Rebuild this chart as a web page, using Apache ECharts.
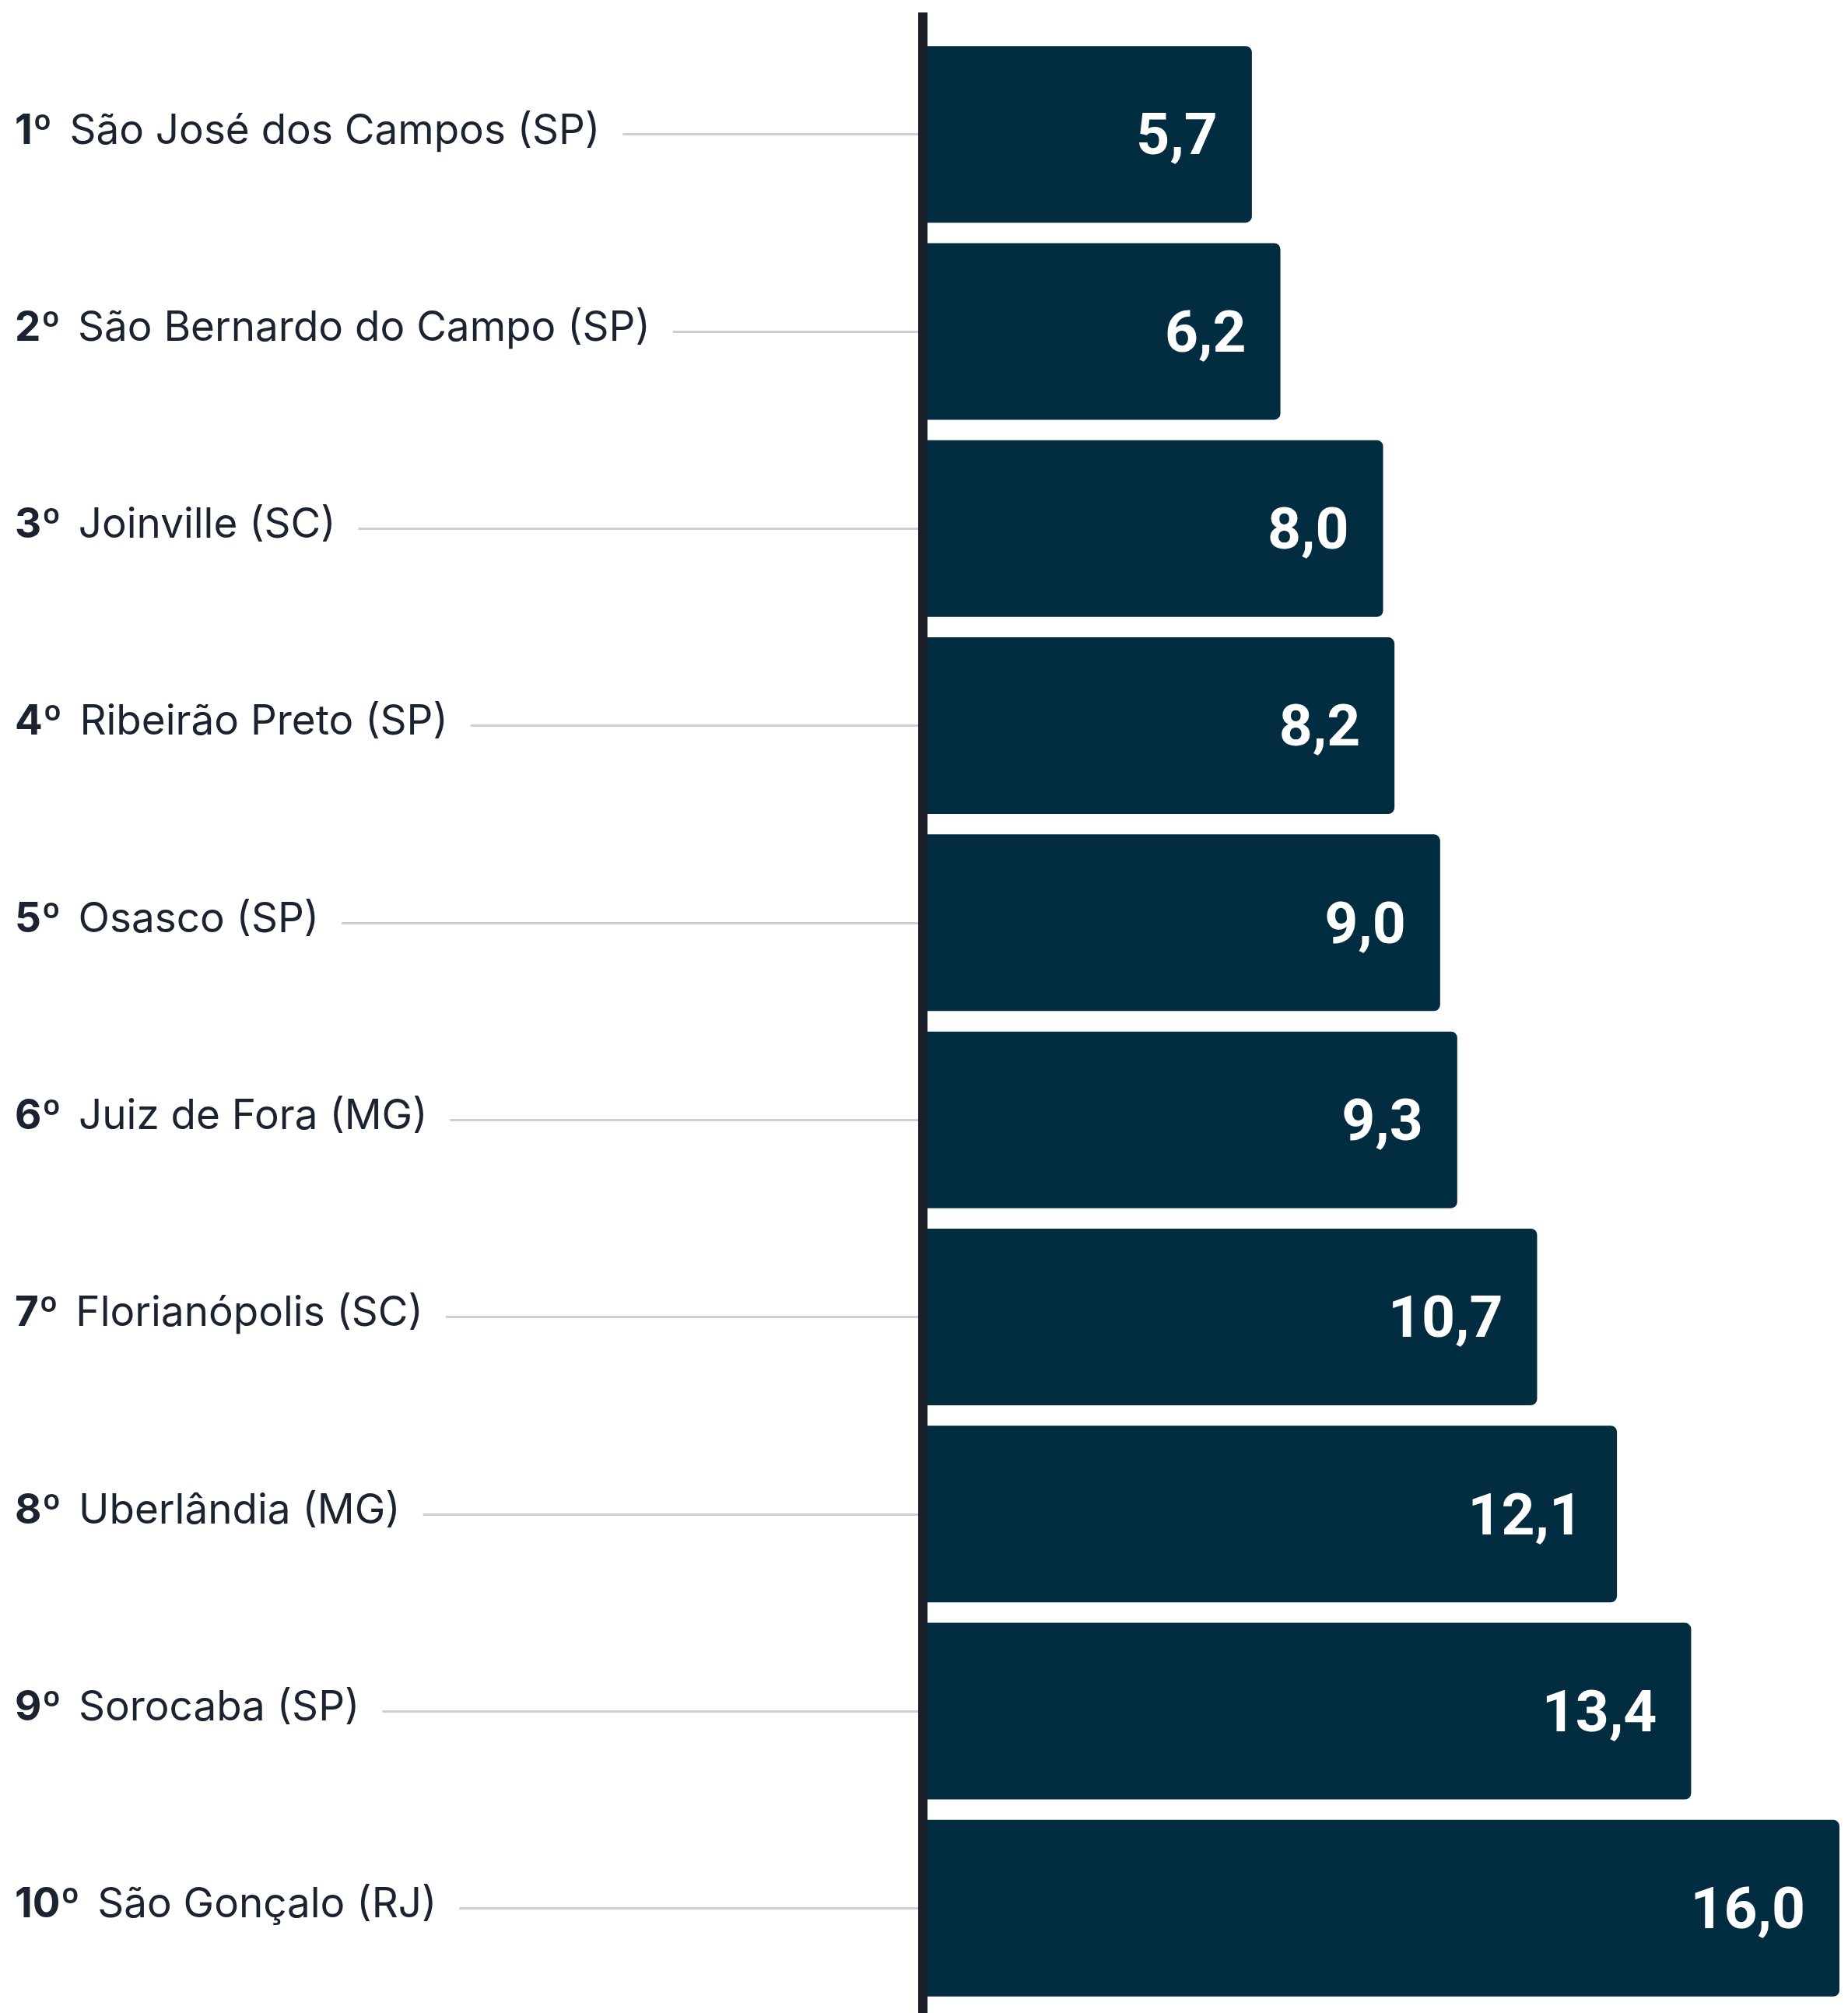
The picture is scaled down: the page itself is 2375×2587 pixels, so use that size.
<!DOCTYPE html>
<html>
<head>
<meta charset="utf-8">
<script src="https://cdn.jsdelivr.net/npm/echarts@6/dist/echarts.min.js"></script>
<style>
html,body{margin:0;padding:0;background:#ffffff;}
#chart{width:2375px;height:2587px;}
</style>
</head>
<body>
<div id="chart"></div>
<script>
const ranks = ['1º', '2º', '3º', '4º', '5º', '6º', '7º', '8º', '9º', '10º'];
const cities = [
  'São José dos Campos (SP)',
  'São Bernardo do Campo (SP)',
  'Joinville (SC)',
  'Ribeirão Preto (SP)',
  'Osasco (SP)',
  'Juiz de Fora (MG)',
  'Florianópolis (SC)',
  'Uberlândia (MG)',
  'Sorocaba (SP)',
  'São Gonçalo (RJ)'
];
const values = [5.7, 6.2, 8.0, 8.2, 9.0, 9.3, 10.7, 12.1, 13.4, 16.0];
const axisMin = 0;
const axisMax = 16;

const categories = ranks.map((r, i) => r + '|' + cities[i]);

const chart = echarts.init(document.getElementById('chart'), null, {renderer: 'canvas'});
const textColor = '#1b2230';
chart.setOption({
  backgroundColor: '#ffffff',
  animation: false,
  grid: {left: 1191, right: 11, top: 46, bottom: 8, containLabel: false},
  xAxis: {
    type: 'value', min: axisMin, max: axisMax,
    axisLine: {show: false}, axisTick: {show: false},
    axisLabel: {show: false}, splitLine: {show: false}
  },
  yAxis: {
    type: 'category',
    data: categories,
    inverse: true,
    z: 10,
    axisLine: {show: false},
    axisTick: {show: true, alignWithLabel: true, length: 1100, lineStyle: {color: '#cfcfd3', width: 3}},
    axisLabel: {
      show: true,
      align: 'left',
      margin: 1172,
      backgroundColor: '#ffffff',
      padding: [0, 29, 8, 0],
      formatter: function (v) {
        const p = v.split('|');
        return '{r|' + p[0] + '}{n|' + p[1] + '}';
      },
      rich: {
        r: {fontFamily: 'Inter', fontWeight: 'bold', fontSize: 53, color: textColor, padding: [0, 22, 0, 0]},
        n: {fontFamily: 'Inter', fontWeight: 'normal', fontSize: 53, color: textColor}
      }
    },
    splitLine: {show: false}
  },
  graphic: [{
    type: 'rect',
    z: 100,
    shape: {x: 1180, y: 16, width: 12, height: 2571},
    style: {fill: '#1b1f2a'}
  }],
  series: [{
    type: 'bar',
    data: values,
    barCategoryGap: '10.4%',
    itemStyle: {color: '#022c40', borderRadius: [0, 8, 8, 0]},
    label: {
      show: true,
      position: 'insideRight',
      distance: 44,
      offset: [0, 7],
      color: '#ffffff',
      fontFamily: 'Roboto',
      fontWeight: 'bold',
      fontSize: 75,
      formatter: function (p) { return p.value.toFixed(1).replace('.', ','); }
    }
  }]
});
</script>
</body>
</html>
